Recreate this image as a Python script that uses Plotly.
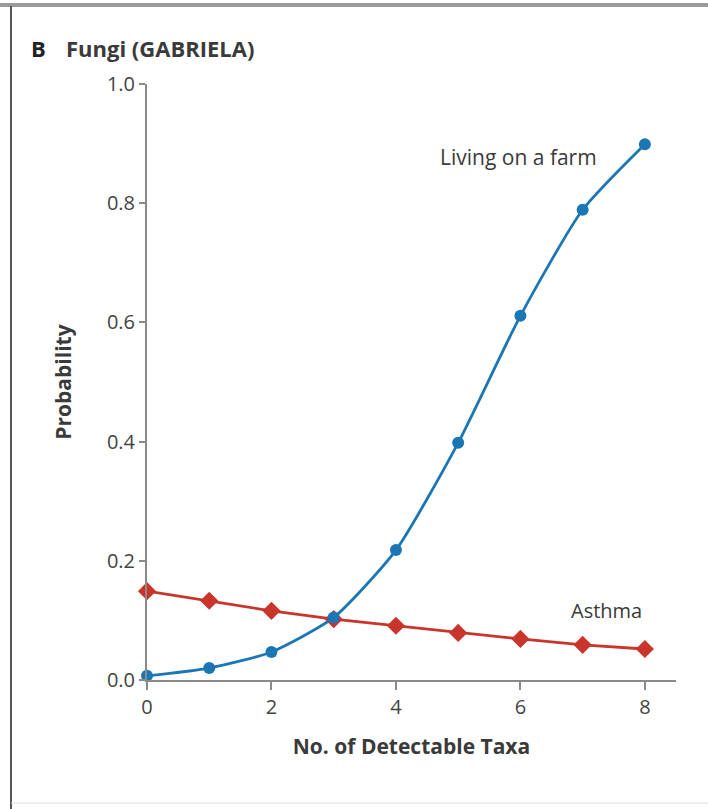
import plotly.graph_objects as go

# Number of detectable fungal taxa
taxa = [0, 1, 2, 3, 4, 5, 6, 7, 8]
# Predicted probabilities
farm_prob = [0.007, 0.020, 0.047, 0.105, 0.218, 0.398, 0.611, 0.789, 0.899]
asthma_prob = [0.149, 0.133, 0.116, 0.102, 0.091, 0.079, 0.069, 0.059, 0.052]

x_ticks = [0, 2, 4, 6, 8]
y_ticks = [0.0, 0.2, 0.4, 0.6, 0.8, 1.0]

BLUE = "#1b76b5"
RED = "#c9352b"
AXIS = "#8a8a8a"
TEXT = "#3a3a3a"
TICK = "#444444"
FONT = "Open Sans"

W, H = 708, 809
L, R, T, B = 147, 32, 84, 129
PW, PH = W - L - R, H - T - B


def px(x):
    """Horizontal pixel position -> plot-area paper fraction."""
    return (x - L) / PW


def py(y):
    """Vertical pixel position (from top) -> plot-area paper fraction."""
    return (H - B - y) / PH


fig = go.Figure()
fig.add_trace(go.Scatter(
    x=taxa, y=asthma_prob, mode="lines+markers",
    line=dict(color=RED, width=2.8),
    marker=dict(symbol="diamond", size=14, color=RED),
    cliponaxis=False, showlegend=False,
))
fig.add_trace(go.Scatter(
    x=taxa, y=farm_prob, mode="lines+markers",
    line=dict(color=BLUE, width=2.8, shape="spline", smoothing=0.6),
    marker=dict(symbol="circle", size=12, color=BLUE),
    cliponaxis=False, showlegend=False,
))

fig.update_layout(
    width=W, height=H,
    margin=dict(l=L, r=R, t=T, b=B),
    plot_bgcolor="white", paper_bgcolor="white",
    font=dict(family=FONT, color=TEXT),
    xaxis=dict(
        range=[0, 8.5], tickvals=x_ticks, ticks="outside", ticklen=8,
        tickwidth=2, tickcolor=AXIS, showline=True, linecolor=AXIS,
        linewidth=2, showgrid=False, zeroline=False,
        tickfont=dict(size=20, color=TICK),
        title=dict(text="<b>No. of Detectable Taxa</b>",
                   font=dict(size=21, color=TEXT), standoff=20),
    ),
    yaxis=dict(
        range=[0, 1.0], tickvals=y_ticks, tickformat=".1f", ticks="outside",
        ticklen=6, tickwidth=2, tickcolor=AXIS, showline=True,
        linecolor=AXIS, linewidth=2, showgrid=False, zeroline=False,
        tickfont=dict(size=20, color=TICK),
        title=dict(text="<b>Probability</b>",
                   font=dict(size=21, color=TEXT), standoff=30),
    ),
    annotations=[
        dict(text="<b>B</b>", x=px(29), y=py(48), xref="paper",
             yref="paper", xanchor="left", yanchor="middle",
             showarrow=False, font=dict(size=22, color="#222222")),
        dict(text="<b>Fungi (GABRIELA)</b>", x=px(64), y=py(48),
             xref="paper", yref="paper", xanchor="left", yanchor="middle",
             showarrow=False, font=dict(size=22, color=TEXT)),
        dict(text="Living on a farm", x=5.97, y=0.877, xref="x", yref="y",
             xanchor="center", yanchor="middle", showarrow=False,
             font=dict(size=21, color=TEXT)),
        dict(text="Asthma", x=7.39, y=0.116, xref="x", yref="y",
             xanchor="center", yanchor="middle", showarrow=False,
             font=dict(size=20, color=TEXT)),
    ],
    shapes=[
        # panel frame
        dict(type="line", xref="paper", yref="paper", x0=px(0), x1=px(W),
             y0=py(5), y1=py(5), line=dict(color="#9a9a9a", width=4)),
        dict(type="line", xref="paper", yref="paper", x0=px(11), x1=px(11),
             y0=py(6), y1=py(H), line=dict(color="#555555", width=2)),
        dict(type="line", xref="paper", yref="paper", x0=px(11), x1=px(W),
             y0=py(803), y1=py(803), line=dict(color="#dddddd", width=1)),
    ],
)

fig.write_html("out.html")
